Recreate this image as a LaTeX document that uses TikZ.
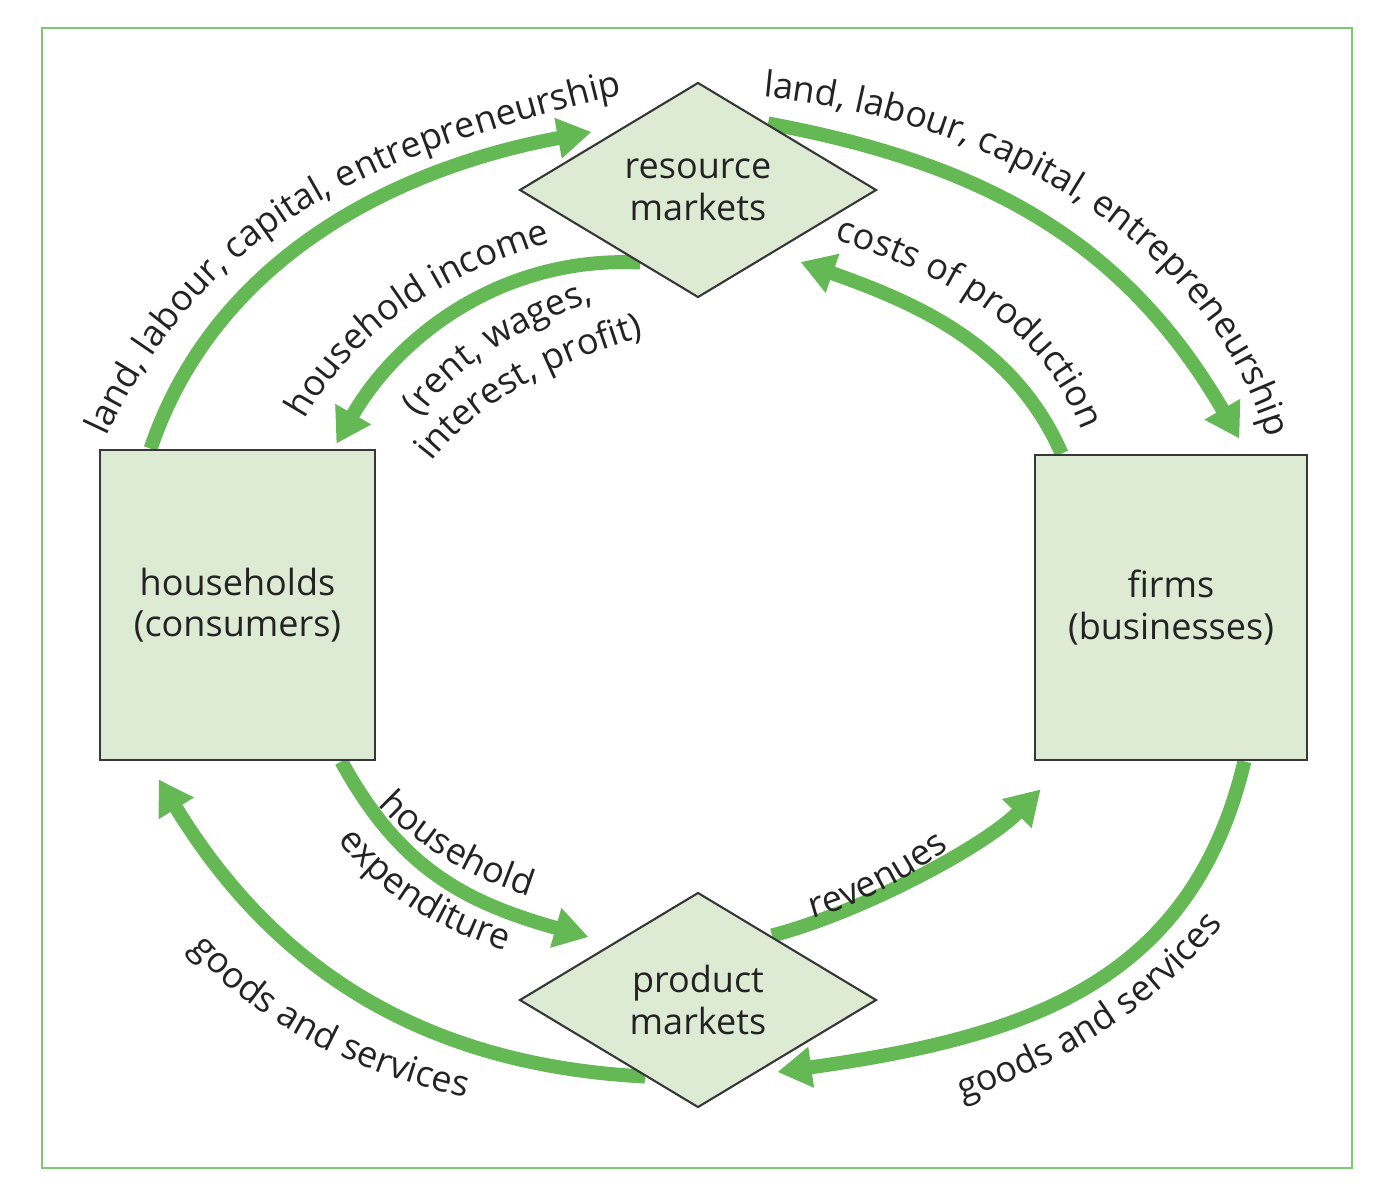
\documentclass[tikz,border=0pt]{standalone}
\usepackage{fontspec}
\setmainfont{Open Sans}
\usetikzlibrary{shapes.geometric,arrows.meta,calc,decorations.text,backgrounds}

\definecolor{flowgreen}{RGB}{100,185,85}
\definecolor{framegreen}{RGB}{125,200,115}
\definecolor{boxfill}{RGB}{221,234,212}
\definecolor{boxline}{RGB}{55,55,55}
\definecolor{inkgray}{RGB}{35,35,35}
\newcommand{\lblfont}{\fontsize{20.5}{23.5}\selectfont}

\tikzset{
  agent/.style={draw=boxline, line width=1.6pt, fill=boxfill, minimum width=5.5cm,
    minimum height=6.2cm, align=center, font=\lblfont, text=inkgray},
  market/.style={diamond, draw=boxline, line width=1.2pt, fill=boxfill, minimum width=7.14cm,
    minimum height=4.3cm, shape aspect=1.66, inner sep=0pt, align=center, font=\lblfont, text=inkgray},
  flow/.style={line width=0.28cm, draw=flowgreen, -{Triangle[length=0.68cm,width=0.78cm]}},
  arclabel/.style={decorate, decoration={text along path, text align=left,
    text color=inkgray, text={|\lblfont|#1}}}
}

\begin{document}
\begin{tikzpicture}[x=0.02cm, y=-0.02cm]
  \useasboundingbox (0,0) rectangle (1392,1200);
  % Frame
  \draw[framegreen, line width=1.6pt] (42,28) rectangle (1352,1168);

  % Agents and markets
  \node[agent] (hh) at (237.5,605) {households\\(consumers)};
  \node[agent, minimum width=5.44cm, minimum height=6.1cm] (fi) at (1171,607.5) {firms\\(businesses)};
  \node[market] (rm) at (698,190) {resource\\markets};
  \node[market] (pm) at (698,1000) {product\\markets};

  \begin{scope}[on background layer]
  % Outer flows
  \draw[flow] ($(hh.north west)+(52,0)$) .. controls +(64,-190) and +(-196,36) .. ($(rm.west)+(73,-58)$);
  \draw[flow] ($(rm.north)+(70,42)$) .. controls +(216,40) and +(-115,-198) .. ($(fi.north east)+(-69,-15)$);
  \draw[flow] ($(fi.south east)+(-64,0)$) .. controls +(-53,223) and +(248,-35) .. ($(pm.east)+(-100,72)$);
  \draw[flow] ($(pm.south)+(-53,-32)$) .. controls +(-230,-12) and +(112,183) .. ($(hh.south west)+(60,18)$);
  % Inner flows
  \draw[flow] ($(fi.north west)+(28,0)$) .. controls +(-48,-110) and +(113,40) .. ($(rm.east)+(-77,72)$);
  \draw[flow] ($(rm.south)+(-58,-36)$) .. controls +(-140,-7) and +(60,-105) .. ($(hh.north east)+(-40,-5)$);
  \draw[flow] ($(hh.south east)+(-35,0)$) .. controls +(58,106) and +(-125,-35) .. ($(pm.west)+(70,-63)$);
  \draw[flow] ($(pm.north)+(74,44)$) .. controls +(89,-23) and +(-56,57) .. ($(fi.south west)+(7,28)$);
  \end{scope}

  % Labels
  \path[arclabel={land, labour, capital, entrepreneurship}] (107,437) .. controls (204,228) and (367,158) .. (600,100) -- ++(200,-40);
  \path[arclabel={land, labour, capital, entrepreneurship}] (763,97) .. controls (1000,120) and (1230,250) .. (1275,470) -- ++(10,200);
  \path[arclabel={costs of production}] (834,240) .. controls (958,277) and (1068,342) .. (1093,472) -- ++(5,200);
  \path[arclabel={household income}] (305,420) .. controls (360,320) and (470,255) .. (620,225) -- ++(200,-30);
  \path[arclabel={(rent, wages,}] (420,418) .. controls (460,360) and (530,320) .. (640,285) -- ++(200,-50);
  \path[arclabel={interest, profit)}] (432,462) .. controls (480,400) and (560,355) .. (690,325) -- ++(200,-50);
  \path[arclabel={household}] (378,805) .. controls (420,850) and (480,885) .. (560,905) -- ++(200,30);
  \path[arclabel={expenditure}] (338,840) .. controls (380,895) and (440,935) .. (540,960) -- ++(200,30);
  \path[arclabel={revenues}] (812,918) .. controls (860,905) and (910,880) .. (960,840) -- ++(150,-130);
  \path[arclabel={goods and services}] (962,1100) .. controls (1080,1060) and (1180,990) .. (1240,900) -- ++(80,-200);
  \path[arclabel={goods and services}] (190,948) .. controls (260,1030) and (370,1080) .. (500,1105) -- ++(200,30);
\end{tikzpicture}
\end{document}
